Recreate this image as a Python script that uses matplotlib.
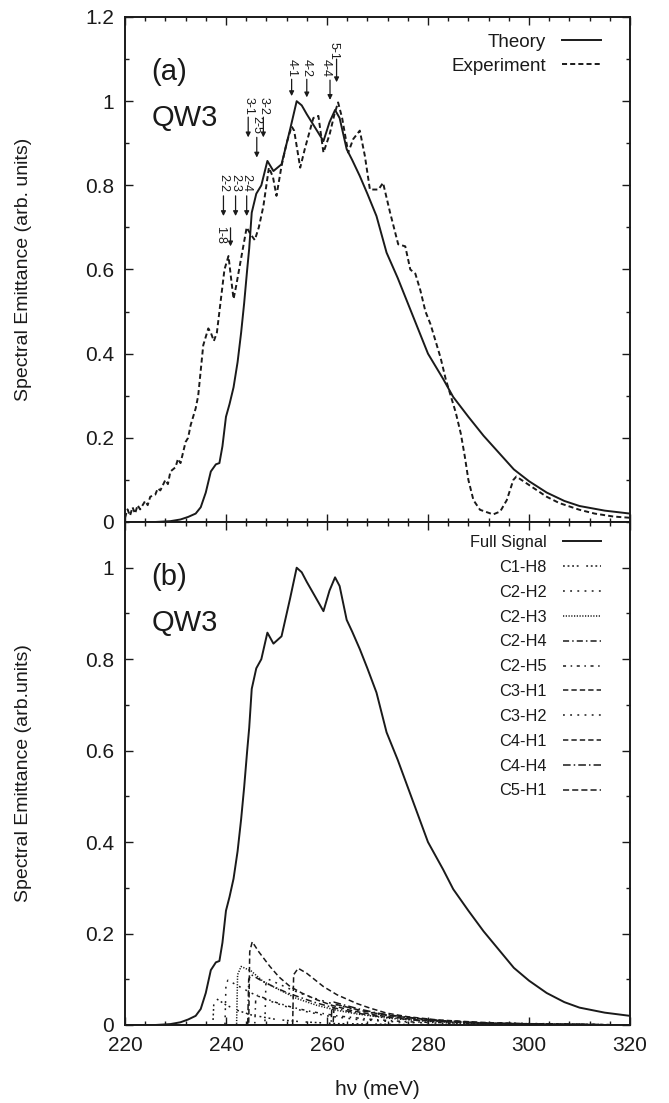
import matplotlib
matplotlib.use('Agg')
import matplotlib.pyplot as plt
from matplotlib.ticker import MultipleLocator, FixedLocator, FixedFormatter

plt.rcParams['font.family'] = ['Liberation Sans', 'DejaVu Sans']

# ---------------- data ----------------
theory_E = [220, 226, 229, 231, 232.5, 234, 235, 236, 237, 238, 238.7, 239.3, 240, 240.7, 241.5,
            242.3, 243, 243.6, 244.2, 244.6, 245.1, 246, 247, 248.2, 249.4, 251, 252.7, 254, 255,
            256, 257.5, 259.3, 260.5, 261.6, 262.5, 263.9, 265, 266.5, 268, 269.8, 271.8, 274,
            276, 278, 280, 283, 285, 288, 291, 294, 297, 300, 303.5, 307, 310, 315, 320]
theory_V = [0, 0, 0.002, 0.006, 0.012, 0.02, 0.035, 0.07, 0.12, 0.137, 0.14, 0.18, 0.25, 0.28, 0.32,
            0.38, 0.45, 0.52, 0.6, 0.65, 0.735, 0.78, 0.80, 0.858, 0.834, 0.85, 0.933, 1.0, 0.99,
            0.969, 0.94, 0.905, 0.95, 0.979, 0.96, 0.886, 0.86, 0.822, 0.78, 0.727, 0.64, 0.58,
            0.52, 0.46, 0.40, 0.34, 0.297, 0.25, 0.205, 0.165, 0.125, 0.097, 0.07, 0.05, 0.038,
            0.027, 0.02]

exp_E = [220, 220.5, 221, 221.5, 222, 222.5, 223, 224, 224.5, 225, 226, 226.5, 227, 228, 228.5,
         229, 230, 230.5, 231, 232, 232.5, 233, 234, 234.5, 235, 235.5, 236.5, 237, 237.6, 238.2,
         239, 239.7, 240.5, 241.0, 241.5, 242, 242.6, 243.2, 244.1, 244.8, 245.7, 246.5, 247.4,
         248.5, 249.3, 250, 251, 252, 253, 253.5, 254.7, 255.6, 257.3, 258.3, 259.3, 260.5, 261.5,
         262.2, 263, 264.2, 265.2, 266.5, 267.5, 268.5, 270.2, 271.1, 272.5, 274.1, 275.5, 276.5,
         277.5, 278.5, 279.5, 280.5, 281.5, 282.5, 283.5, 284.5, 285.5, 286.5, 287.3, 288, 289,
         290.3, 292.9, 294.3, 295.6, 296.9, 297.5, 298.5, 300, 303.5, 306, 310, 313, 316.7, 320]
exp_V = [0.01, 0.03, 0.015, 0.035, 0.02, 0.04, 0.03, 0.05, 0.04, 0.06, 0.065, 0.08, 0.075, 0.1, 0.09,
         0.12, 0.13, 0.15, 0.14, 0.19, 0.2, 0.23, 0.27, 0.3, 0.36, 0.42, 0.46, 0.45, 0.43, 0.45,
         0.53, 0.6, 0.632, 0.58, 0.53, 0.56, 0.6, 0.64, 0.70, 0.685, 0.67, 0.7, 0.75,
         0.842, 0.82, 0.775, 0.846, 0.9, 0.94, 0.93, 0.842, 0.886, 0.96, 0.965, 0.878, 0.92, 0.97,
         0.997, 0.96, 0.878, 0.91, 0.93, 0.87, 0.79, 0.79, 0.806, 0.735, 0.66, 0.655, 0.6,
         0.59, 0.55, 0.5, 0.47, 0.43, 0.39, 0.34, 0.3, 0.26, 0.21, 0.155, 0.10, 0.052,
         0.029, 0.018, 0.025, 0.052, 0.10, 0.108, 0.1, 0.088, 0.06, 0.045, 0.029, 0.02, 0.013, 0.01]

c1h8_E = [220, 237.4, 237.6, 238.0, 239.0, 240.0, 242.0, 245.0, 250.0, 255.0, 262.0, 275.0, 320.0]
c1h8_V = [0, 0, 0.05, 0.058, 0.051, 0.044, 0.033, 0.022, 0.012, 0.007, 0.003, 0.001, 0]
c2h2_E = [220, 239.8, 240.0, 240.4, 242, 245, 248, 252, 256, 260, 266, 275, 290, 320]
c2h2_V = [0, 0, 0.09, 0.098, 0.088, 0.07, 0.055, 0.04, 0.029, 0.02, 0.012, 0.006, 0.002, 0]
c2h3_E = [220, 242.1, 242.3, 243.0, 245, 247.4, 250, 254, 258, 262, 266, 272, 280, 292, 320]
c2h3_V = [0, 0, 0.11, 0.128, 0.118, 0.095, 0.08, 0.058, 0.043, 0.032, 0.024, 0.015, 0.008, 0.003, 0]
c2h4_E = [220, 244.3, 244.5, 245.0, 247, 249.4, 252, 255.3, 258, 260.6, 263, 265.9, 270, 278, 290, 320]
c2h4_V = [0, 0, 0.1, 0.11, 0.097, 0.084, 0.071, 0.058, 0.048, 0.04, 0.033, 0.026, 0.019, 0.01, 0.004, 0]
c2h5_E = [220, 245.7, 245.9, 246.3, 248, 250, 253, 257, 262, 268, 276, 290, 320]
c2h5_V = [0, 0, 0.06, 0.065, 0.057, 0.049, 0.039, 0.029, 0.02, 0.013, 0.007, 0.003, 0]
c3h1_E = [220, 244.5, 244.7, 245.2, 246.5, 248.7, 250.5, 252.7, 255, 258, 261, 265, 270, 278, 290, 320]
c3h1_V = [0, 0, 0.16, 0.182, 0.16, 0.128, 0.105, 0.084, 0.07, 0.055, 0.043, 0.031, 0.021, 0.011, 0.004, 0]
c3h2_E = [220, 247.7, 247.9, 248.4, 250, 253, 256, 260, 265, 270, 278, 290, 320]
c3h2_V = [0, 0, 0.09, 0.1, 0.092, 0.077, 0.064, 0.05, 0.035, 0.024, 0.013, 0.005, 0]
c4h1_E = [220, 253.2, 253.4, 254.3, 256, 259.3, 262, 265.9, 268.5, 271.8, 276, 282, 290, 300, 320]
c4h1_V = [0, 0, 0.11, 0.124, 0.113, 0.084, 0.066, 0.047, 0.037, 0.026, 0.018, 0.011, 0.006, 0.002, 0]
c4h4_E = [220, 260.8, 261.0, 261.4, 263, 266, 270, 275, 282, 292, 320]
c4h4_V = [0, 0, 0.045, 0.05, 0.045, 0.036, 0.026, 0.018, 0.01, 0.004, 0]
c5h1_E = [220, 261.2, 261.4, 261.8, 264, 267, 271, 276, 283, 292, 305, 320]
c5h1_V = [0, 0, 0.04, 0.045, 0.039, 0.031, 0.023, 0.016, 0.009, 0.004, 0.001, 0]

component_labels = ['C1-H8', 'C2-H2', 'C2-H3', 'C2-H4', 'C2-H5', 'C3-H1', 'C3-H2', 'C4-H1', 'C4-H4', 'C5-H1']

# transition markers: label, text energy, text top value, arrow energy, arrow tail, arrow tip
trans_labels = ['4-1', '4-2', '4-4', '5-1', '3-1', '3-2', '2-5', '2-2', '2-3', '2-4', '1-8']
trans_textE = [253.0, 256.0, 259.8, 261.3, 244.4, 247.4, 246.1, 239.5, 241.9, 244.1, 238.8]
trans_textV = [1.10, 1.10, 1.10, 1.14, 1.009, 1.009, 0.965, 0.826, 0.826, 0.826, 0.703]
trans_arrE = [253.0, 256.0, 260.6, 261.9, 244.4, 247.4, 246.1, 239.5, 241.9, 244.1, 240.9]
trans_tail = [1.052, 1.052, 1.05, 1.10, 0.962, 0.962, 0.914, 0.775, 0.775, 0.775, 0.699]
trans_tip = [1.012, 1.009, 1.003, 1.045, 0.914, 0.914, 0.866, 0.727, 0.727, 0.727, 0.655]

xticks = [220, 240, 260, 280, 300, 320]
xticklabels = ['220', '240', '260', '280', '300', '320']
yticks_a = [0, 0.2, 0.4, 0.6, 0.8, 1.0, 1.2]
yticklabels_a = ['0', '0.2', '0.4', '0.6', '0.8', '1', '1.2']
yticks_b = [0, 0.2, 0.4, 0.6, 0.8, 1.0]
yticklabels_b = ['0', '0.2', '0.4', '0.6', '0.8', '1']

# ---------------- styles ----------------
INK = '#1a1a1a'
comp_E = [c1h8_E, c2h2_E, c2h3_E, c2h4_E, c2h5_E, c3h1_E, c3h2_E, c4h1_E, c4h4_E, c5h1_E]
comp_V = [c1h8_V, c2h2_V, c2h3_V, c2h4_V, c2h5_V, c3h1_V, c3h2_V, c4h1_V, c4h4_V, c5h1_V]
comp_dashes = [(1.2, 1.8, 1.2, 1.8, 1.2, 1.8, 1.2, 5), (1.2, 3.5), (0.8, 1.0), (4, 2, 1, 2),
               (2, 3, 1, 3), (3.5, 2), (1.2, 3.5), (3.5, 2), (5, 2, 1, 2), (4, 2)]

fig = plt.figure(figsize=(6.69, 11.03), dpi=100)
ax1 = fig.add_axes([0.1868, 0.52675, 0.7549, 0.45784])
ax2 = fig.add_axes([0.1868, 0.07072, 0.7549, 0.45603])

ax1.plot(theory_E, theory_V, color=INK, lw=1.4, label='Theory')
ax1.plot(exp_E, exp_V, color=INK, lw=1.4, dashes=(2.6, 1.6), label='Experiment')

for lab, tE, tV, aE, a0, a1 in zip(trans_labels, trans_textE, trans_textV, trans_arrE, trans_tail, trans_tip):
    ax1.text(tE, tV, lab, rotation=-90, ha='center', va='top', fontsize=9, color=INK)
    ax1.annotate('', xy=(aE, a1), xytext=(aE, a0),
                 arrowprops=dict(arrowstyle='-|>', color=INK, lw=0.9, mutation_scale=7,
                                 shrinkA=0, shrinkB=0))

ax2.plot(theory_E, theory_V, color=INK, lw=1.4, label='Full Signal')
for E, V, d, lab in zip(comp_E, comp_V, comp_dashes, component_labels):
    ax2.plot(E, V, color=INK, lw=1.1, dashes=d, label=lab)

for ax, yt, ytl, ylim, ylab in [(ax1, yticks_a, yticklabels_a, 1.2, 'Spectral Emittance (arb. units)'),
                                (ax2, yticks_b, yticklabels_b, 1.1, 'Spectral Emittance (arb.units)')]:
    ax.set_xlim(220, 320)
    ax.set_ylim(0, ylim)
    ax.xaxis.set_major_locator(FixedLocator(xticks))
    ax.xaxis.set_minor_locator(MultipleLocator(4))
    ax.yaxis.set_major_locator(FixedLocator(yt))
    ax.yaxis.set_major_formatter(FixedFormatter(ytl))
    ax.yaxis.set_minor_locator(MultipleLocator(0.1))
    ax.tick_params(which='both', direction='in', top=True, right=True, color=INK, width=1.0)
    ax.tick_params(which='major', length=6, labelsize=15, pad=8, labelcolor=INK)
    ax.tick_params(which='minor', length=3)
    for s in ax.spines.values():
        s.set_linewidth(1.4)
        s.set_color(INK)
    ax.set_ylabel(ylab, fontsize=14, color=INK)
    ax.yaxis.set_label_coords(-0.185, 0.5)

ax1.tick_params(labelbottom=False)
ax2.xaxis.set_major_formatter(FixedFormatter(xticklabels))
ax2.set_xlabel('hν (meV)', fontsize=15, color=INK)
ax2.xaxis.set_label_coords(0.5, -0.11)

for ax, tag in [(ax1, '(a)'), (ax2, '(b)')]:
    ax.text(0.053, 0.891, tag, transform=ax.transAxes, fontsize=21, va='center', ha='left', color=INK)
    ax.text(0.053, 0.80, 'QW3', transform=ax.transAxes, fontsize=21, va='center', ha='left', color=INK)

leg1 = ax1.legend(loc='upper right', bbox_to_anchor=(0.9426, 0.967), frameon=False, markerfirst=False,
                  fontsize=13.5, handlelength=2.1, handletextpad=0.85, labelspacing=0.38, borderpad=0,
                  borderaxespad=0)
leg2 = ax2.legend(loc='upper right', bbox_to_anchor=(0.9426, 0.974), frameon=False, markerfirst=False,
                  fontsize=11.8, handlelength=2.3, handletextpad=1.0, labelspacing=0.6, borderpad=0,
                  borderaxespad=0)
for leg in (leg1, leg2):
    for t in leg.get_texts():
        t.set_color(INK)

fig.savefig('out.png', dpi=100)
